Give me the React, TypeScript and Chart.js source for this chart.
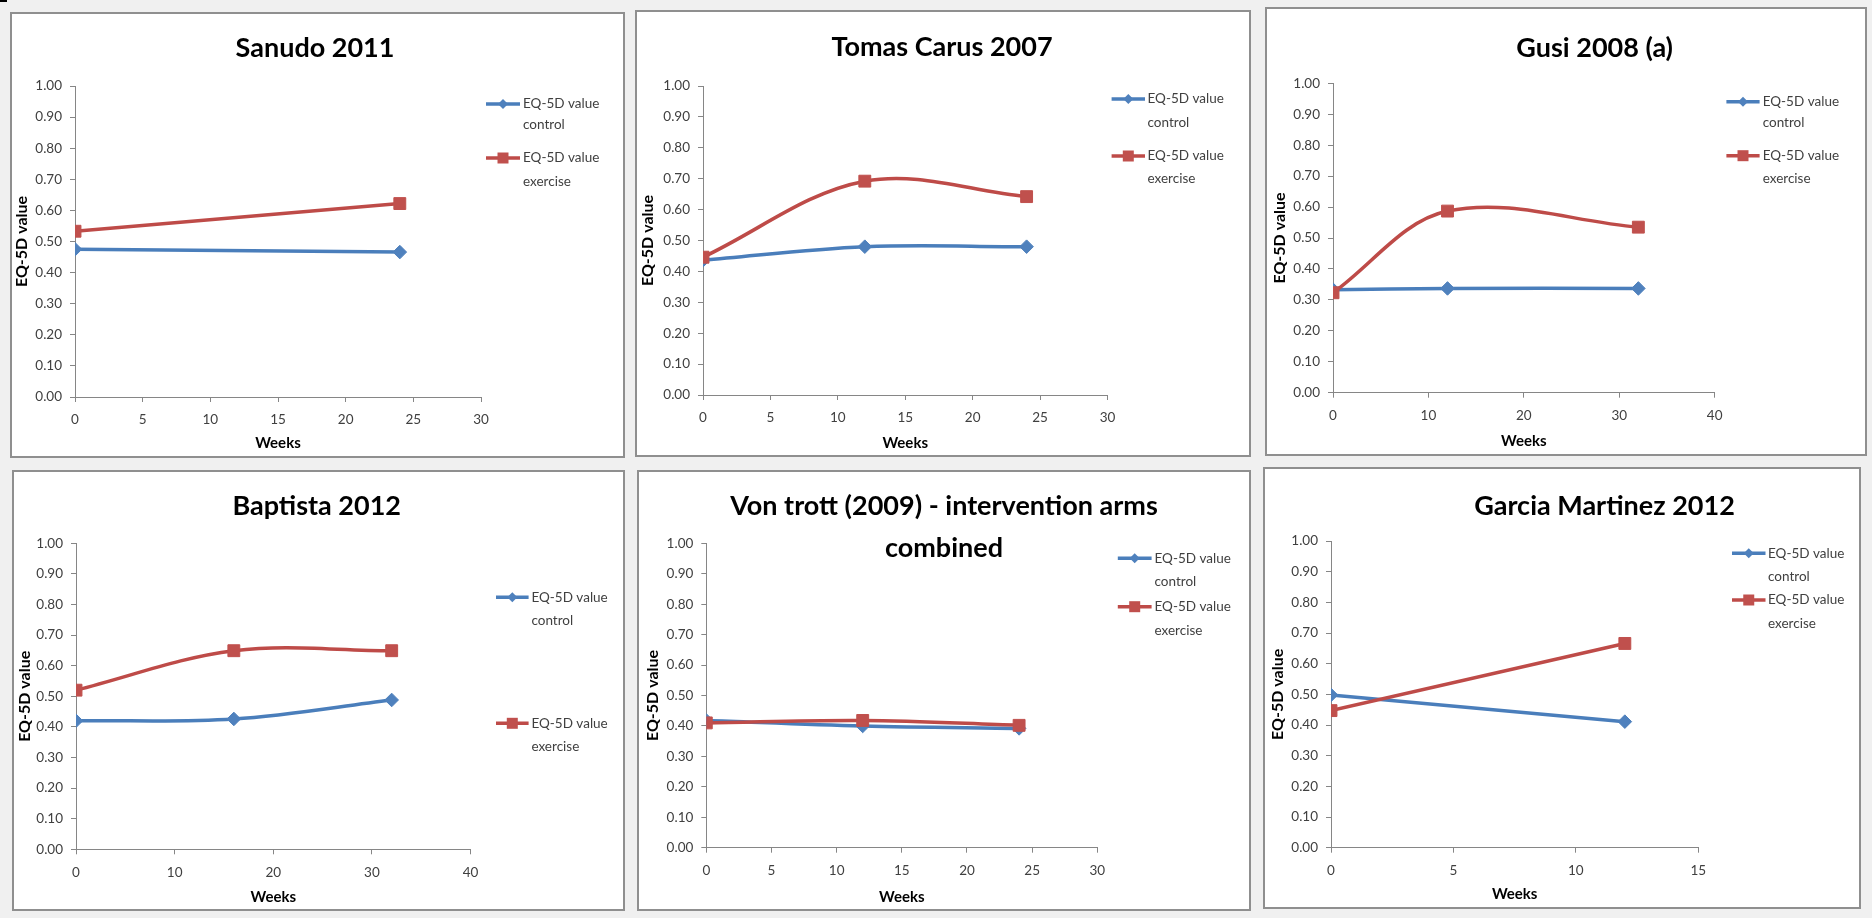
import React, { useEffect, useRef } from 'react';
import { Chart, registerables } from 'chart.js';

Chart.register(...registerables);

// ---------- DATA ----------
const LEGEND_CONTROL = ['EQ-5D value', 'control'];
const LEGEND_EXERCISE = ['EQ-5D value', 'exercise'];
const Y_TICKS = [0, 0.1, 0.2, 0.3, 0.4, 0.5, 0.6, 0.7, 0.8, 0.9, 1.0];

// Sanudo 2011
const sanudoTitle = ['Sanudo 2011'];
const sanudoWeeks = [0, 24];
const sanudoControl = [0.475, 0.466];
const sanudoExercise = [0.533, 0.622];
const sanudoXTicks = [0, 5, 10, 15, 20, 25, 30];

// Tomas Carus 2007
const tomasTitle = ['Tomas Carus 2007'];
const tomasWeeks = [0, 12, 24];
const tomasControl = [0.436, 0.48, 0.48];
const tomasExercise = [0.446, 0.692, 0.642];
const tomasXTicks = [0, 5, 10, 15, 20, 25, 30];

// Gusi 2008 (a)
const gusiTitle = ['Gusi 2008 (a)'];
const gusiWeeks = [0, 12, 32];
const gusiControl = [0.333, 0.337, 0.337];
const gusiExercise = [0.323, 0.587, 0.535];
const gusiXTicks = [0, 10, 20, 30, 40];

// Baptista 2012
const baptistaTitle = ['Baptista 2012'];
const baptistaWeeks = [0, 16, 32];
const baptistaControl = [0.42, 0.426, 0.488];
const baptistaExercise = [0.52, 0.649, 0.649];
const baptistaXTicks = [0, 10, 20, 30, 40];

// Von trott (2009)
const vontrottTitle = ['Von trott (2009) - intervention arms', 'combined'];
const vontrottWeeks = [0, 12, 24];
const vontrottControl = [0.418, 0.4, 0.392];
const vontrottExercise = [0.41, 0.418, 0.402];
const vontrottXTicks = [0, 5, 10, 15, 20, 25, 30];

// Garcia Martinez 2012
const garciaTitle = ['Garcia Martinez 2012'];
const garciaWeeks = [0, 12];
const garciaControl = [0.498, 0.411];
const garciaExercise = [0.447, 0.666];
const garciaXTicks = [0, 5, 10, 15];

// ---------- LAYOUT (absolute page pixels) ----------
type Layout = {
  box: number[]; // x, y, w, h
  plot: number[]; // left, top, right, bottom
  title: number[]; // cx, cy
  titleGap: number;
  legendX: number[]; // lineStart, lineEnd, textX
  legendY: number[]; // 4 line centres
  yTitleX: number;
  xTitleY: number;
};

const LAYOUTS: Layout[] = [
  { box: [10, 12, 615, 446], plot: [75, 86, 481, 397], title: [315, 48], titleGap: 42, legendX: [486, 520, 523], legendY: [104, 125, 158, 182], yTitleX: 22, xTitleY: 443 },
  { box: [635, 10, 616, 447], plot: [703, 86, 1107.5, 395], title: [942, 47], titleGap: 42, legendX: [1111.6, 1145, 1147.5], legendY: [99, 123, 156, 179], yTitleX: 648, xTitleY: 443 },
  { box: [1265, 7, 602, 449], plot: [1333, 83.3, 1714.7, 392.7], title: [1594.7, 48], titleGap: 42, legendX: [1726.4, 1759.6, 1762.7], legendY: [101.7, 122.7, 155.7, 179], yTitleX: 1279.5, xTitleY: 440.7 },
  { box: [12, 470, 613, 441], plot: [76, 543.3, 470.6, 849.3], title: [316.7, 506.7], titleGap: 42, legendX: [496, 528.6, 531.4], legendY: [597.3, 620.7, 723.3, 746.7], yTitleX: 24.5, xTitleY: 896.7 },
  { box: [637, 470, 614, 441], plot: [706.3, 543.3, 1097.3, 847.7], title: [944, 506.7], titleGap: 41.6, legendX: [1117.8, 1151.6, 1154.5], legendY: [558.3, 581.7, 606.7, 630.7], yTitleX: 652.4, xTitleY: 896.7 },
  { box: [1263, 467, 598, 442], plot: [1331, 541, 1698.3, 847.7], title: [1604.5, 506.7], titleGap: 42, legendX: [1732, 1765.5, 1768], legendY: [553.3, 576.7, 600, 623.3], yTitleX: 1277.6, xTitleY: 894.3 },
];

type PanelDef = {
  title: string[];
  weeks: number[];
  control: number[];
  exercise: number[];
  xTicks: number[];
  smooth: boolean;
};

const PANELS: PanelDef[] = [
  { title: sanudoTitle, weeks: sanudoWeeks, control: sanudoControl, exercise: sanudoExercise, xTicks: sanudoXTicks, smooth: false },
  { title: tomasTitle, weeks: tomasWeeks, control: tomasControl, exercise: tomasExercise, xTicks: tomasXTicks, smooth: true },
  { title: gusiTitle, weeks: gusiWeeks, control: gusiControl, exercise: gusiExercise, xTicks: gusiXTicks, smooth: true },
  { title: baptistaTitle, weeks: baptistaWeeks, control: baptistaControl, exercise: baptistaExercise, xTicks: baptistaXTicks, smooth: true },
  { title: vontrottTitle, weeks: vontrottWeeks, control: vontrottControl, exercise: vontrottExercise, xTicks: vontrottXTicks, smooth: true },
  { title: garciaTitle, weeks: garciaWeeks, control: garciaControl, exercise: garciaExercise, xTicks: garciaXTicks, smooth: false },
];

const BLUE_LINE = '#4A7EBB';
const BLUE_FILL = '#4F81BD';
const RED_LINE = '#BE4B48';
const RED_FILL = '#C0504D';
const AXIS = '#868686';
const FONT = 'Lato, "Open Sans", sans-serif';

function drawMarker(ctx: CanvasRenderingContext2D, style: string, x: number, y: number, r: number, color: string) {
  ctx.save();
  ctx.fillStyle = color;
  ctx.beginPath();
  if (style === 'rectRot') {
    ctx.moveTo(x - r, y);
    ctx.lineTo(x, y - r);
    ctx.lineTo(x + r, y);
    ctx.lineTo(x, y + r);
    ctx.closePath();
  } else {
    ctx.rect(x - r, y - r, 2 * r, 2 * r);
  }
  ctx.fill();
  ctx.restore();
}

function Panel({ def, layout }: { def: PanelDef; layout: Layout }) {
  const ref = useRef<HTMLCanvasElement | null>(null);
  const [bx, by, W, H] = layout.box;

  useEffect(() => {
    if (!ref.current) return;
    const rel = (v: number, o: number) => v - o;
    const pl = rel(layout.plot[0], bx);
    const pt = rel(layout.plot[1], by);
    const pr = rel(layout.plot[2], bx);
    const pb = rel(layout.plot[3], by);

    const deco = {
      id: 'deco',
      beforeDraw(chart: any) {
        const ctx = chart.ctx as CanvasRenderingContext2D;
        ctx.save();
        ctx.fillStyle = '#ffffff';
        ctx.fillRect(0, 0, W, H);
        ctx.strokeStyle = '#8f8f8f';
        ctx.lineWidth = 2;
        ctx.strokeRect(1, 1, W - 2, H - 2);
        ctx.restore();
      },
      afterDraw(chart: any) {
        const ctx = chart.ctx as CanvasRenderingContext2D;
        const area = chart.chartArea;
        ctx.save();
        // title
        ctx.fillStyle = '#000000';
        ctx.font = `bold 27px ${FONT}`;
        ctx.textAlign = 'center';
        ctx.textBaseline = 'middle';
        def.title.forEach((t, i) => {
          ctx.fillText(t, rel(layout.title[0], bx), rel(layout.title[1], by) + i * layout.titleGap);
        });
        // y title
        ctx.save();
        ctx.translate(rel(layout.yTitleX, bx), (area.top + area.bottom) / 2);
        ctx.rotate(-Math.PI / 2);
        ctx.font = `bold 16px ${FONT}`;
        ctx.fillText('EQ-5D value', 0, 0);
        ctx.restore();
        // x title
        ctx.font = `bold 15px ${FONT}`;
        ctx.fillText('Weeks', (area.left + area.right) / 2, rel(layout.xTitleY, by));
        // legend
        const lx0 = rel(layout.legendX[0], bx);
        const lx1 = rel(layout.legendX[1], bx);
        const tx = rel(layout.legendX[2], bx);
        const items = [
          { ds: chart.data.datasets[0], lines: LEGEND_CONTROL, r: 5 },
          { ds: chart.data.datasets[1], lines: LEGEND_EXERCISE, r: 5.5 },
        ];
        ctx.font = `13.5px ${FONT}`;
        ctx.textAlign = 'left';
        items.forEach((it, i) => {
          const y1 = rel(layout.legendY[2 * i], by);
          const y2 = rel(layout.legendY[2 * i + 1], by);
          ctx.strokeStyle = it.ds.borderColor;
          ctx.lineWidth = 3.5;
          ctx.beginPath();
          ctx.moveTo(lx0, y1);
          ctx.lineTo(lx1, y1);
          ctx.stroke();
          drawMarker(ctx, it.ds.pointStyle, (lx0 + lx1) / 2, y1, it.r, it.ds.pointBackgroundColor);
          ctx.fillStyle = '#404040';
          ctx.fillText(it.lines[0], tx, y1);
          ctx.fillText(it.lines[1], tx, y2);
        });
        ctx.restore();
      },
    };

    const tension = def.smooth ? 0.35 : 0;
    const xt = def.xTicks;
    const chart = new Chart(ref.current, {
      type: 'line',
      data: {
        datasets: [
          {
            label: LEGEND_CONTROL.join(' '),
            data: def.weeks.map((w, i) => ({ x: w, y: def.control[i] })),
            borderColor: BLUE_LINE,
            backgroundColor: BLUE_FILL,
            pointBackgroundColor: BLUE_FILL,
            pointBorderColor: BLUE_FILL,
            pointBorderWidth: 1,
            pointStyle: 'rectRot',
            pointRadius: 6.8,
            borderWidth: 3.5,
            tension,
            order: 1,
          },
          {
            label: LEGEND_EXERCISE.join(' '),
            data: def.weeks.map((w, i) => ({ x: w, y: def.exercise[i] })),
            borderColor: RED_LINE,
            backgroundColor: RED_FILL,
            pointBackgroundColor: RED_FILL,
            pointBorderColor: RED_FILL,
            pointBorderWidth: 1,
            pointStyle: 'rect',
            pointRadius: 8.4,
            borderWidth: 3.5,
            tension,
            order: 0,
          },
        ],
      } as any,
      options: {
        animation: false,
        responsive: false,
        events: [],
        layout: { padding: { left: 0, top: pt, right: W - pr, bottom: 0 } },
        plugins: { legend: { display: false }, title: { display: false }, tooltip: { enabled: false } },
        scales: {
          x: {
            type: 'linear',
            min: xt[0],
            max: xt[xt.length - 1],
            afterBuildTicks: (s: any) => {
              s.ticks = xt.map((v) => ({ value: v }));
            },
            afterFit: (s: any) => {
              s.height = H - pb;
            },
            grid: { display: true, drawOnChartArea: false, drawTicks: true, tickLength: 5, color: AXIS, lineWidth: 1 },
            border: { display: true, color: AXIS, width: 1 },
            ticks: { padding: 10, color: '#404040', font: { family: FONT, size: 13.5 }, maxRotation: 0, autoSkip: false },
          },
          y: {
            type: 'linear',
            min: 0,
            max: 1,
            afterBuildTicks: (s: any) => {
              s.ticks = Y_TICKS.map((v) => ({ value: v }));
            },
            afterFit: (s: any) => {
              s.width = pl;
            },
            grid: { display: true, drawOnChartArea: false, drawTicks: true, tickLength: 5, color: AXIS, lineWidth: 1 },
            border: { display: true, color: AXIS, width: 1 },
            ticks: {
              padding: 8,
              color: '#404040',
              font: { family: FONT, size: 13.5 },
              autoSkip: false,
              callback: (v: any) => Number(v).toFixed(2),
            },
          },
        },
      } as any,
      plugins: [deco],
    });
    return () => chart.destroy();
  }, [def, layout]);

  return (
    <canvas
      ref={ref}
      width={W}
      height={H}
      style={{ position: 'absolute', left: bx, top: by, width: W, height: H }}
    />
  );
}

export default function App() {
  return (
    <div
      style={{
        position: 'fixed',
        left: 0,
        top: 0,
        width: 1872,
        height: 918,
        background: '#f0f0f0',
        overflow: 'hidden',
      }}
    >
      <div style={{ position: 'absolute', left: 0, top: 0, width: 7, height: 2, background: '#000' }} />
      {PANELS.map((p, i) => (
        <Panel key={i} def={p} layout={LAYOUTS[i]} />
      ))}
    </div>
  );
}
